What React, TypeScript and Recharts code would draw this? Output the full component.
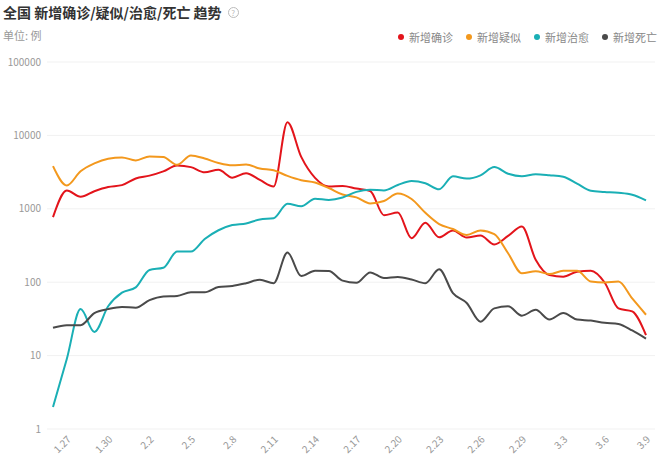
import React from 'react';
import { LineChart, Line, XAxis, YAxis, CartesianGrid, Legend } from 'recharts';

const FONT = '"Noto Sans CJK SC", "Noto Sans", sans-serif';

const dates = [
  '1.26', '1.27', '1.28', '1.29', '1.30', '1.31',
  '2.1', '2.2', '2.3', '2.4', '2.5', '2.6', '2.7', '2.8', '2.9', '2.10',
  '2.11', '2.12', '2.13', '2.14', '2.15', '2.16', '2.17', '2.18', '2.19', '2.20',
  '2.21', '2.22', '2.23', '2.24', '2.25', '2.26', '2.27', '2.28', '2.29',
  '3.1', '3.2', '3.3', '3.4', '3.5', '3.6', '3.7', '3.8', '3.9',
];

const confirmed = [
  769, 1771, 1459, 1737, 1982, 2102,
  2590, 2829, 3235, 3887, 3694, 3143, 3399, 2656, 3062, 2478,
  2015, 15152, 5090, 2641, 2009, 2048, 1886, 1749, 820, 889,
  397, 648, 409, 508, 406, 433, 327, 427, 573,
  202, 125, 119, 139, 143, 99, 44, 40, 19,
];

const suspected = [
  3806, 2077, 3248, 4148, 4812, 5019,
  4562, 5173, 5072, 3971, 5328, 4833, 4214, 3916, 4008, 3536,
  3342, 2807, 2450, 2277, 1918, 1563, 1432, 1185, 1277, 1614,
  1361, 882, 620, 530, 439, 508, 452, 248, 132,
  141, 129, 143, 143, 102, 99, 102, 60, 36,
];

const cured = [
  2, 9, 43, 21, 47, 72,
  85, 147, 157, 262, 261, 387, 510, 600, 632, 716,
  744, 1171, 1081, 1373, 1323, 1425, 1701, 1824, 1779, 2109,
  2393, 2231, 1846, 2770, 2580, 2860, 3700, 3000, 2770,
  2950, 2860, 2730, 2200, 1760, 1700, 1650, 1550, 1300,
];

const deaths = [
  24, 26, 26, 38, 43, 46,
  45, 57, 64, 65, 73, 73, 86, 89, 97, 108,
  97, 254, 121, 143, 142, 105, 98, 136, 114, 118,
  109, 97, 150, 71, 52, 29, 44, 47, 35,
  42, 31, 38, 31, 30, 28, 27, 22, 17,
];

const tickDates = ['1.27', '1.30', '2.2', '2.5', '2.8', '2.11', '2.14', '2.17', '2.20', '2.23', '2.26', '2.29', '3.3', '3.6', '3.9'];
const yTicks = [1, 10, 100, 1000, 10000, 100000];

const series = [
  { key: 'confirmed', name: '新增确诊', color: '#e3141b' },
  { key: 'suspected', name: '新增疑似', color: '#f3981d' },
  { key: 'cured', name: '新增治愈', color: '#1aafb5' },
  { key: 'deaths', name: '新增死亡', color: '#4a4a4a' },
];

const data = dates.map((date, i) => ({
  date,
  confirmed: confirmed[i],
  suspected: suspected[i],
  cured: cured[i],
  deaths: deaths[i],
}));

function LegendContent() {
  // keep the series order (recharts sorts legend items by name otherwise)
  return (
    <div style={{ display: 'flex', fontFamily: FONT, fontSize: 11, color: '#888', lineHeight: '16px' }}>
      {series.map((s) => (
        <div key={s.key} style={{ display: 'flex', alignItems: 'center', marginLeft: 13 }}>
          <span style={{ width: 6, height: 6, borderRadius: 3, background: s.color, marginRight: 5 }} />
          <span>{s.name}</span>
        </div>
      ))}
    </div>
  );
}

export default function App() {
  return (
    <div style={{ position: 'absolute', left: 0, top: 0, width: 667, height: 465, background: '#fff', fontFamily: FONT }}>
      <div style={{ position: 'absolute', left: 3, top: 4, fontSize: 14, fontWeight: 700, color: '#333', lineHeight: '17px', display: 'flex', alignItems: 'center' }}>
        全国 新增确诊/疑似/治愈/死亡 趋势
        <span style={{
          marginLeft: 6, width: 9, height: 9, borderRadius: 6, border: '1px solid #bbb', color: '#bbb',
          fontSize: 8, lineHeight: '9px', textAlign: 'center', fontWeight: 400,
        }}>?</span>
      </div>
      <div style={{ position: 'absolute', left: 3, top: 28, fontSize: 11, color: '#999', lineHeight: '14px' }}>单位: 例</div>
      <LineChart width={667} height={465} data={data} margin={{ top: 46, right: 12, bottom: 0, left: 0 }}>
        <CartesianGrid vertical={false} stroke="#f1f1f1" />
        <XAxis
          dataKey="date"
          ticks={tickDates}
          interval={0}
          height={36}
          padding={{ left: 6, right: 9 }}
          axisLine={false}
          tickLine={false}
          tickSize={0}
          tickMargin={6}
          angle={-45}
          textAnchor="end"
          tick={{ fontSize: 10, fill: '#999', fontFamily: FONT }}
        />
        <YAxis
          scale="log"
          type="number"
          domain={[1, 100000]}
          ticks={yTicks}
          allowDataOverflow
          width={47}
          axisLine={false}
          tickLine={false}
          tickSize={0}
          tickMargin={6}
          tick={{ fontSize: 10, fill: '#999', fontFamily: FONT }}
        />
        <Legend verticalAlign="top" align="right" wrapperStyle={{ top: 29, right: 10, left: 'auto', width: 'auto' }} content={<LegendContent />} />
        {series.map((s) => (
          <Line
            key={s.key}
            type="monotone"
            dataKey={s.key}
            name={s.name}
            stroke={s.color}
            strokeWidth={2}
            dot={false}
            activeDot={false}
            isAnimationActive={false}
          />
        ))}
      </LineChart>
    </div>
  );
}
